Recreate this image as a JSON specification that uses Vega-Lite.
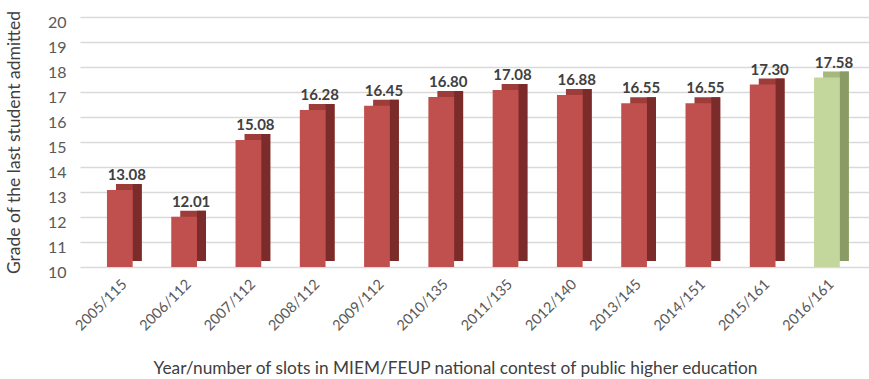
{
  "$schema": "https://vega.github.io/schema/vega-lite/v6.json",
  "width": 789,
  "height": 250,
  "autosize": {"type": "none"},
  "padding": {"left": 80, "top": 17, "right": 0, "bottom": 112},
  "background": "white",
  "config": {"view": {"stroke": null}, "font": "Lato",
    "axisY": {"labelOverlap": false, "grid": true, "gridColor": "#d9d9d9", "gridWidth": 1.5, "domain": false, "ticks": false, "labelPadding": 14, "labelOffset": 5,
              "labelFontSize": 16, "labelColor": "#595959", "titleFontSize": 17.5, "titleFontWeight": "normal",
              "titleColor": "#404040", "titlePadding": 24}},
  "datasets": {
    "grades": [
      {"label": "2005/115", "grade": 13.08, "group": "past"},
      {"label": "2006/112", "grade": 12.01, "group": "past"},
      {"label": "2007/112", "grade": 15.08, "group": "past"},
      {"label": "2008/112", "grade": 16.28, "group": "past"},
      {"label": "2009/112", "grade": 16.45, "group": "past"},
      {"label": "2010/135", "grade": 16.80, "group": "past"},
      {"label": "2011/135", "grade": 17.08, "group": "past"},
      {"label": "2012/140", "grade": 16.88, "group": "past"},
      {"label": "2013/145", "grade": 16.55, "group": "past"},
      {"label": "2014/151", "grade": 16.55, "group": "past"},
      {"label": "2015/161", "grade": 17.30, "group": "past"},
      {"label": "2016/161", "grade": 17.58, "group": "current"}
    ]
  },
  "layer": [
    {
      "data": {"name": "grades"},
      "mark": {"type": "bar", "xOffset": 9, "yOffset": -6, "y2Offset": -6},
      "encoding": {
        "x": {"field": "label", "type": "nominal", "sort": null,
              "scale": {"paddingInner": 0.6, "paddingOuter": 0.437, "align": 0.48},
              "axis": {"title": "Year/number of slots in MIEM/FEUP national contest of public higher education",
                       "labelAngle": -45, "labelFontSize": 14.5, "labelColor": "#595959", "labelPadding": 10,
                       "domain": false, "ticks": false, "titleFontSize": 17.3, "titleFontWeight": "normal",
                       "titleColor": "#404040", "titlePadding": 27, "titleX": 375}},
        "y": {"field": "grade", "type": "quantitative", "scale": {"domain": [10, 20], "zero": false},
              "axis": {"title": "Grade of the last student admitted", "values": [10, 11, 12, 13, 14, 15, 16, 17, 18, 19, 20], "labelOverlap": false}},
        "y2": {"datum": 10},
        "color": {"condition": {"test": "datum.group === 'current'", "value": "#a6b97c"}, "value": "#9e3c39"}
      }
    },
    {
      "data": {"name": "grades"},
      "mark": {"type": "bar", "width": 9, "xOffset": 17.4, "yOffset": -6, "y2Offset": -6},
      "encoding": {
        "x": {"field": "label", "type": "nominal", "sort": null},
        "y": {"field": "grade", "type": "quantitative",
              "axis": {"title": "Grade of the last student admitted", "values": [10, 11, 12, 13, 14, 15, 16, 17, 18, 19, 20], "labelOverlap": false}},
        "y2": {"datum": 10},
        "color": {"condition": {"test": "datum.group === 'current'", "value": "#8a9b66"}, "value": "#7b2c2a"}
      }
    },
    {
      "data": {"name": "grades"},
      "mark": {"type": "bar"},
      "encoding": {
        "x": {"field": "label", "type": "nominal", "sort": null},
        "y": {"field": "grade", "type": "quantitative",
              "axis": {"title": "Grade of the last student admitted", "values": [10, 11, 12, 13, 14, 15, 16, 17, 18, 19, 20], "labelOverlap": false}},
        "y2": {"datum": 10},
        "color": {"condition": {"test": "datum.group === 'current'", "value": "#c3d69b"}, "value": "#c0504d"}
      }
    },
    {
      "data": {"name": "grades"},
      "mark": {"type": "text", "fontWeight": "bold", "fontSize": 15, "color": "#404040", "dy": -15, "xOffset": 7, "baseline": "middle"},
      "encoding": {
        "x": {"field": "label", "type": "nominal", "sort": null},
        "y": {"field": "grade", "type": "quantitative",
              "axis": {"title": "Grade of the last student admitted", "values": [10, 11, 12, 13, 14, 15, 16, 17, 18, 19, 20], "labelOverlap": false}},
        "text": {"field": "grade", "type": "quantitative", "format": ".2f"}
      }
    }
  ]
}
